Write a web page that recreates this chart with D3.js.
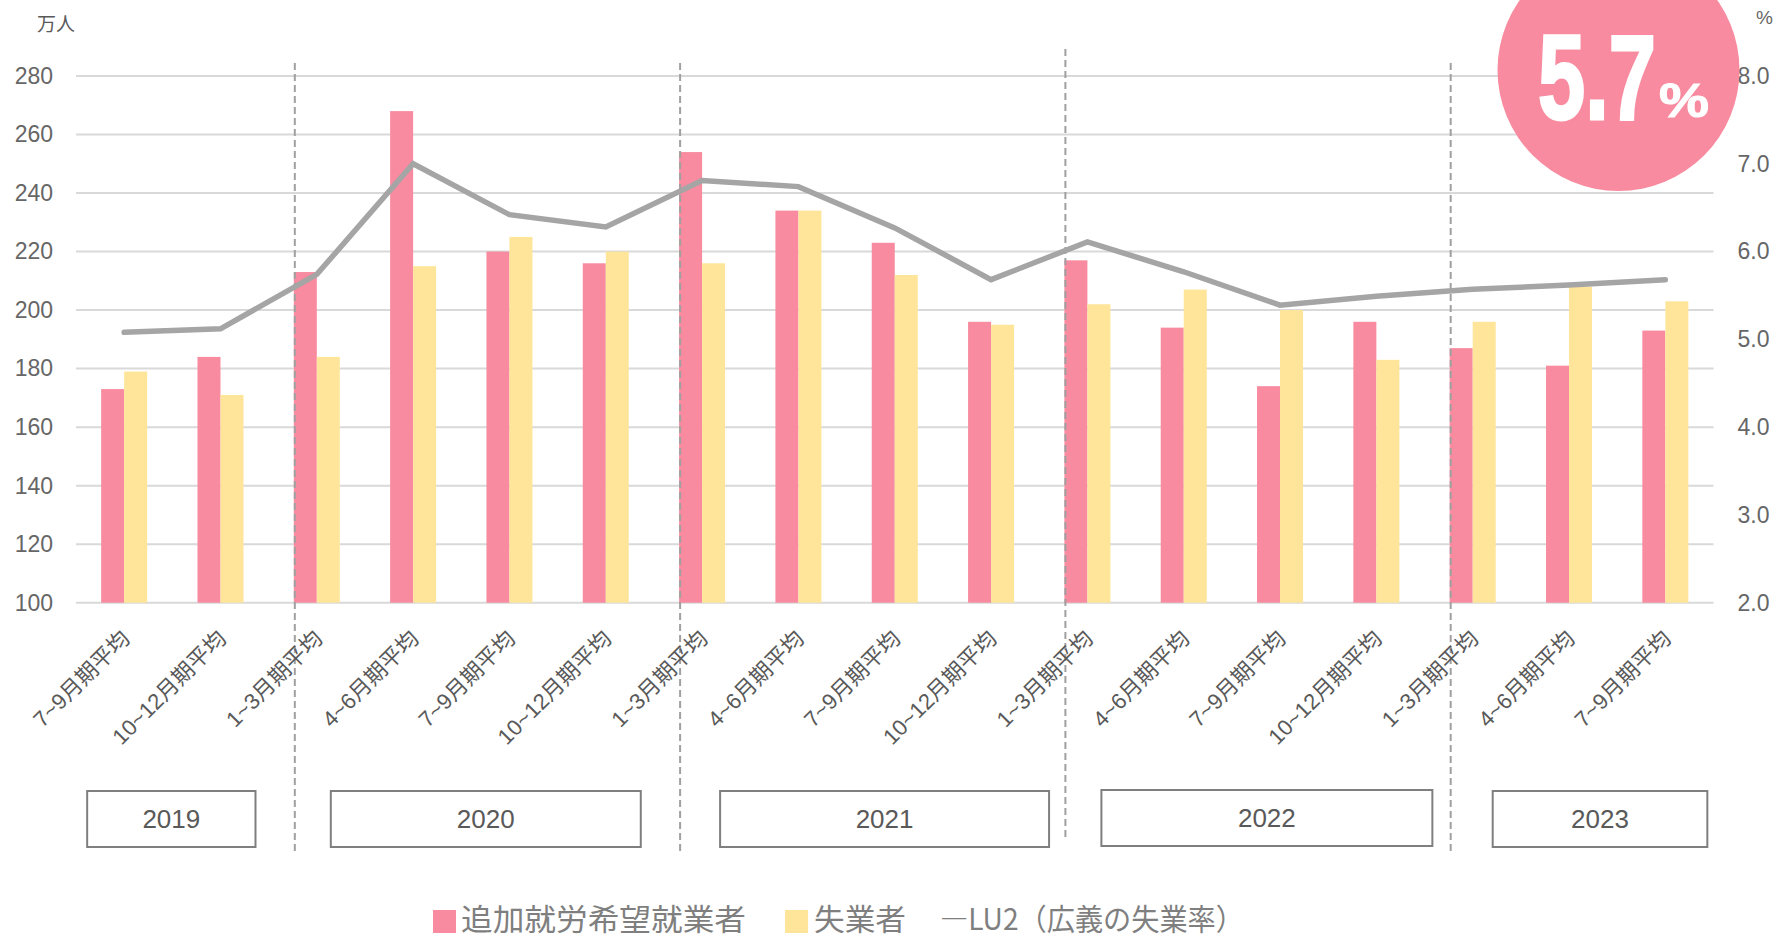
<!DOCTYPE html>
<html lang="ja">
<head>
<meta charset="utf-8">
<script src="https://cdn.jsdelivr.net/npm/d3@7"></script>
<style>
  html, body { margin: 0; padding: 0; background: #fff; overflow: hidden; }
</style>
</head>
<body>
<div id="chart"></div>
<script>
// quarter labels, one per bar group
const categories = [
  "7~9月期平均", "10~12月期平均",
  "1~3月期平均", "4~6月期平均", "7~9月期平均", "10~12月期平均",
  "1~3月期平均", "4~6月期平均", "7~9月期平均", "10~12月期平均",
  "1~3月期平均", "4~6月期平均", "7~9月期平均", "10~12月期平均",
  "1~3月期平均", "4~6月期平均", "7~9月期平均"
];
// 追加就労希望就業者 (万人)
const addWorkers = [173, 184, 213, 268, 220, 216, 254, 234, 223, 196, 217, 194, 174, 196, 187, 181, 193];
// 失業者 (万人)
const unemployed = [179, 171, 184, 215, 225, 220, 216, 234, 212, 195, 202, 207, 200, 183, 196, 208, 203];
// LU2 広義の失業率 (%)
const lu2 = [5.08, 5.12, 5.74, 7.0, 6.42, 6.28, 6.81, 6.74, 6.27, 5.68, 6.11, 5.77, 5.39, 5.49, 5.57, 5.62, 5.68];

const years = ["2019", "2020", "2021", "2022", "2023"];
const yearStart = [0, 2, 6, 10, 14];
const yearEnd = [1, 5, 9, 13, 16];

const leftTicks = [100, 120, 140, 160, 180, 200, 220, 240, 260, 280];
const rightTicks = [2, 3, 4, 5, 6, 7, 8];
const seriesNames = ["追加就労希望就業者", "失業者"];

const width = 1775, height = 937;
const pink = "#f88b9f", yellow = "#ffe599", lineGray = "#a5a5a5";
const textGray = "#666666";
const latin = "'Liberation Sans', Arial, 'Noto Sans CJK JP', sans-serif";
const cjk = "'Noto Sans CJK JP', 'Liberation Sans', sans-serif";

const svg = d3.select("#chart").append("svg")
  .attr("width", width)
  .attr("height", height)
  .attr("viewBox", `0 0 ${width} ${height}`);

const plotLeft = 76, plotRight = 1713.5, plotTop = 76, plotBottom = 602.7;

const x = d3.scaleBand()
  .domain(d3.range(categories.length))
  .range([plotLeft, plotRight])
  .paddingInner(0).paddingOuter(0);
const bw = x.bandwidth();
const barW = 23;
const xSub = d3.scaleBand()
  .domain([0, 1])
  .range([bw / 2 - barW, bw / 2 + barW]);

const yL = d3.scaleLinear().domain([100, 280]).range([plotBottom, plotTop]);
const yR = d3.scaleLinear().domain([2, 8]).range([plotBottom, plotTop]);

// gridlines
svg.append("g").selectAll("line")
  .data(leftTicks)
  .join("line")
  .attr("x1", plotLeft).attr("x2", plotRight)
  .attr("y1", d => yL(d)).attr("y2", d => yL(d))
  .attr("stroke", "#d9d9d9")
  .attr("stroke-width", 2);

// left axis labels
const axL = svg.append("g")
  .attr("transform", `translate(${plotLeft - 23},0)`)
  .call(d3.axisLeft(yL).tickValues(leftTicks).tickSize(0).tickPadding(0));
axL.select(".domain").remove();
axL.selectAll("text")
  .attr("fill", textGray)
  .style("font-family", latin)
  .style("font-size", "23px");

// right axis labels
const axR = svg.append("g")
  .attr("transform", `translate(${plotRight + 24},0)`)
  .call(d3.axisRight(yR).tickValues(rightTicks).tickSize(0).tickPadding(0).tickFormat(d3.format(".1f")));
axR.select(".domain").remove();
axR.selectAll("text")
  .attr("fill", textGray)
  .style("font-family", latin)
  .style("font-size", "23px");

// unit labels
svg.append("text")
  .attr("x", 37).attr("y", 31)
  .attr("fill", "#595959")
  .style("font-family", cjk)
  .style("font-size", "19px")
  .text("万人");
svg.append("text")
  .attr("x", 1756).attr("y", 24)
  .attr("fill", textGray)
  .style("font-family", latin)
  .style("font-size", "19px")
  .text("%");

// bars
const groups = svg.append("g").selectAll("g")
  .data(categories.map((c, i) => ({ i, vals: [addWorkers[i], unemployed[i]] })))
  .join("g")
  .attr("transform", d => `translate(${x(d.i)},0)`);
groups.selectAll("rect")
  .data(d => d.vals.map((v, k) => ({ k, v })))
  .join("rect")
  .attr("x", d => xSub(d.k))
  .attr("width", xSub.bandwidth())
  .attr("y", d => yL(d.v))
  .attr("height", d => yL(100) - yL(d.v))
  .attr("fill", d => d.k === 0 ? pink : yellow);

// dashed year separators
const sepTop = [0, 63, 63, 49, 63];
const sepBottom = [0, 854, 854, 841, 854];
svg.append("g").selectAll("line")
  .data(yearStart.slice(1).map((s, j) => ({ s, j: j + 1 })))
  .join("line")
  .attr("x1", d => x(d.s) + xSub(0) + 1)
  .attr("x2", d => x(d.s) + xSub(0) + 1)
  .attr("y1", d => sepTop[d.j])
  .attr("y2", d => sepBottom[d.j])
  .attr("stroke", "#a0a0a0")
  .attr("stroke-width", 2)
  .attr("stroke-dasharray", "7,4");

// LU2 line
const line = d3.line()
  .x((d, i) => x(i) + bw / 2)
  .y(d => yR(d));
svg.append("path")
  .datum(lu2)
  .attr("d", line)
  .attr("fill", "none")
  .attr("stroke", lineGray)
  .attr("stroke-width", 5.5)
  .attr("stroke-linecap", "round")
  .attr("stroke-linejoin", "miter");

// category labels (rotated)
svg.append("g").selectAll("text")
  .data(categories)
  .join("text")
  .attr("transform", (d, i) => `translate(${x(i) + bw / 2 + 7},640) rotate(-45)`)
  .attr("text-anchor", "end")
  .attr("fill", "#595959")
  .style("font-family", latin)
  .style("font-size", "22px")
  .text(d => d);

// year boxes
const boxPad = [[-37, 35], [14, 35], [18, 58], [14, 56], [20, 42]];
const boxes = svg.append("g").selectAll("g")
  .data(years.map((y, j) => ({ y, j })))
  .join("g");
boxes.append("rect")
  .attr("x", d => x(yearStart[d.j]) + bw / 2 + boxPad[d.j][0])
  .attr("width", d => (x(yearEnd[d.j]) + boxPad[d.j][1]) - (x(yearStart[d.j]) + boxPad[d.j][0]))
  .attr("y", d => d.j === 3 ? 790 : 791)
  .attr("height", 56)
  .attr("fill", "none")
  .attr("stroke", "#7f7f7f")
  .attr("stroke-width", 2);
boxes.append("text")
  .attr("x", d => (x(yearStart[d.j]) + x(yearEnd[d.j]) + bw + boxPad[d.j][0] + boxPad[d.j][1]) / 2)
  .attr("y", d => d.j === 3 ? 818 : 819)
  .attr("dy", "0.35em")
  .attr("text-anchor", "middle")
  .attr("fill", "#595959")
  .style("font-family", latin)
  .style("font-size", "26px")
  .text(d => d.y);

// legend
const legend = svg.append("g");
legend.append("rect").attr("x", 433).attr("y", 910).attr("width", 23).attr("height", 23).attr("fill", pink);
legend.append("text").attr("x", 461).attr("y", 930)
  .attr("fill", "#7f7f7f").style("font-family", cjk).style("font-size", "30px")
  .attr("textLength", 285).attr("lengthAdjust", "spacingAndGlyphs")
  .text(seriesNames[0]);
legend.append("rect").attr("x", 785).attr("y", 910).attr("width", 23).attr("height", 23).attr("fill", yellow);
legend.append("text").attr("x", 814).attr("y", 930)
  .attr("fill", "#7f7f7f").style("font-family", cjk).style("font-size", "30px")
  .attr("textLength", 92).attr("lengthAdjust", "spacingAndGlyphs")
  .text(seriesNames[1]);
legend.append("text").attr("x", 940).attr("y", 930)
  .attr("fill", "#7f7f7f").style("font-family", cjk).style("font-size", "30px")
  .attr("textLength", 304).attr("lengthAdjust", "spacingAndGlyphs")
  .text("—LU2（広義の失業率）");

// callout
const last = lu2[lu2.length - 1];
svg.append("circle")
  .attr("cx", 1618.5).attr("cy", 70).attr("r", 121)
  .attr("fill", pink);
svg.append("text")
  .attr("x", 1538).attr("y", 119)
  .attr("fill", "#fff").attr("stroke", "#fff").attr("stroke-width", 3)
  .style("font-family", latin).style("font-weight", "bold").style("font-size", "121px")
  .attr("textLength", 118).attr("lengthAdjust", "spacingAndGlyphs")
  .text(d3.format(".1f")(last));
svg.append("text")
  .attr("x", 1659).attr("y", 117)
  .attr("fill", "#fff").attr("stroke", "#fff").attr("stroke-width", 1)
  .style("font-family", latin).style("font-weight", "bold").style("font-size", "48px")
  .attr("textLength", 50).attr("lengthAdjust", "spacingAndGlyphs")
  .text("%");
</script>
</body>
</html>
